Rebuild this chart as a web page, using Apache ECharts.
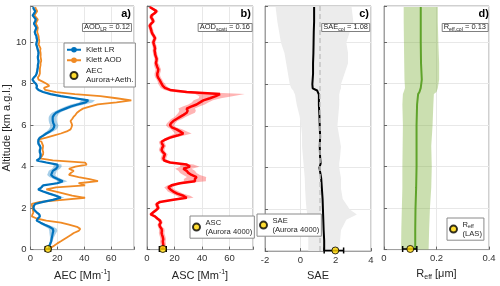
<!DOCTYPE html>
<html><head><meta charset="utf-8">
<script src="https://cdn.jsdelivr.net/npm/echarts@6/dist/echarts.min.js"></script>
<style>html,body{margin:0;padding:0;background:#fff}#c{width:500px;height:286px}</style>
</head><body><div id="c"></div>
<script>
// ---------- data ----------
const altitude = [0,0.1,0.2,0.3,0.4,0.5,0.6,0.7,0.8,0.9,1,1.1,1.2,1.3,1.4,1.5,1.6,1.7,1.8,1.9,2,2.1,2.2,2.3,2.4,2.5,2.6,2.7,2.8,2.9,3,3.1,3.2,3.3,3.4,3.5,3.6,3.7,3.8,3.9,4,4.1,4.2,4.3,4.4,4.5,4.6,4.7,4.8,4.9,5,5.1,5.2,5.3,5.4,5.5,5.6,5.7,5.8,5.9,6,6.1,6.2,6.3,6.4,6.5,6.6,6.7,6.8,6.9,7,7.1,7.2,7.3,7.4,7.5,7.6,7.7,7.8,7.9,8,8.1,8.2,8.3,8.4,8.5,8.6,8.7,8.8,8.9,9,9.1,9.2,9.3,9.4,9.5,9.6,9.7,9.8,9.9,10,10.1,10.2,10.3,10.4,10.5,10.6,10.7,10.8,10.9,11,11.1,11.2,11.3,11.4,11.5,11.6,11.7];
const aecKlettLR = [13.7,14,14.2,14.8,15.4,15.7,16,16.3,16.6,17,16.6,14,10.6,7.5,4.6,5.5,7,6.5,4.6,3,2.2,2.5,3.4,9.4,16.6,22.6,19,14,9.4,5.8,8.2,9.4,20,24,20.2,17,15.4,16,16.6,19,20.2,20,11.8,4.6,7,7.5,7.5,7,7,7.5,7,6,5.8,6,7,9.5,11.8,14.5,16.6,17.5,17.8,17,16.6,16.5,16.6,17.5,19,22,26,30,35,41,43,33,22.6,15,9.4,6,4.5,4.8,4,2.5,1.5,2.5,4,4.6,5,5.2,5.5,5.5,5.8,6,5.6,5.5,5.8,6,5.6,5.2,4.8,4.3,4.6,5,4.6,4.4,3.6,3.2,3.8,4.4,3.5,2.6,3.4,4,2.8,1.6,2.8,3.6,2.5,2];
const aecKlettLRErr = [1,1,1,1,1,1.2,1.5,2,2.5,3,3,3,2.5,1.5,1,0.8,0.8,0.8,0.8,0.8,0.8,0.8,0.8,1.5,2,2.5,2.5,2,1.5,1,1,1.5,3,3.5,3,3,3,3,3,3,3,3,2,1,1,1,1,1,1,1,1,1,1,1,1,1.5,2,2.5,3,3,3,3,3,3,3,3,3,3,3.5,4,5,5,5,4,3,2,1.5,1,0.8,0.8,0.8,0.8,0.8,0.8,0.8,0.8,0.8,0.8,0.8,0.8,0.8,0.8,0.8,0.8,0.8,0.8,0.8,0.8,0.8,0.8,0.8,0.8,0.8,0.8,0.8,0.8,0.8,0.8,0.8,0.8,0.8,0.8,0.8,0.8,0.8,0.8,0.8,0.8];
const aecKlettAOD = [13.7,15.5,17.8,20,22.6,25,27.4,30,32.2,35.8,37,34.6,28.6,22.6,11.8,4.6,1,1.5,2.2,1.8,1.7,1.2,1,7,23.8,40.6,31,25,19,11.8,19,40.6,35.8,50.2,44,35.8,28.6,30,32.2,28.6,33.4,41.8,40.6,16.6,7,8.5,9.4,9.5,9,9.2,9.4,8.8,8.2,5.8,11.8,17,22.6,27,29.8,30.5,31,30.5,29.8,31,32,33.5,34.6,36.5,39,44,50,64,75,64,52,33,19,11,10,14,12,9,6,5.5,6.5,7,7,7,7.2,7.5,7.5,8,7.8,7.5,7.6,7.5,7.2,7.5,6.8,6,6.5,6.5,6.2,6,5.5,5,5.2,5.5,4.8,4,4.6,5.5,4.2,3,4,5,4.2,3.5];
const asc = [11,11.5,11.9,11.7,11.5,11.8,11.5,11,10.6,10.8,10.6,9.5,9,10,9.4,7.5,5.8,2.7,4.6,6.5,8.2,7.5,7,9.4,19.1,28.8,26.4,22,19.1,17,15.5,17.9,24,34.8,34.8,36,32.4,30,28.8,26.4,31.2,28.8,16.7,12.5,11.9,12.5,13,11.5,10.6,11,11.9,11,10.6,13,16.7,22,26.4,24,21.5,18,16.7,17.5,19.1,21.5,24,26.5,28.8,29.5,28.8,32,36,38.5,40.9,45.7,50,53,28.8,16.7,13,11.5,10.6,9.8,9,8,7.5,7.5,8,8.2,7.5,7,6.5,6.8,7,6.5,6,5.8,5.5,5.8,5.5,5,4.6,5.2,5.8,5,4,3.4,3,2.5,2,3,4.6,4,3,3.4,5.5,7,4.5,2];
const ascErr = [2,2,2,2,2,2,2,2,2,2,2,1.5,1.5,1.5,1.5,1.5,1.5,1.5,1.5,1.5,1.5,1.5,1.5,2,4,5,5,4,4,3,3,3,4,8,8,7,6,6,6,6,7,5,3,2,2,2,2,2,2,2,2,2,2,2,3,5,6,5,4,3,3,3,3,4,4,5,6,6,6,6,6,6,7,8,12,18,10,4,3,2.5,2.5,2,2,2,2,2,2,2,2,2,1.5,1.5,1.5,1.5,1.5,1.5,1.5,1.5,1.5,1.5,1.5,1.5,1.5,1.5,1.5,1.5,1.5,1.5,1.5,1.5,1.5,1.5,1.5,1.5,1.5,1.5,1.5,1.5];

const altSAE = [0,0.5,1,1.5,1.75,2,2.5,3,3.5,4,4.2,4.5,5,5.5,6,6.5,7,7.5,7.7,7.8,8,8.5,9,9.5,10,10.5,11,11.7];
const sae    = [1.35,1.35,1.32,1.3,1.29,1.28,1.26,1.22,1.18,1.08,1.15,1.12,1.1,1.12,1.1,1.08,1.05,1.05,0.95,0.7,0.68,0.72,0.72,0.74,0.75,0.76,0.78,0.78];
const saeLo  = [0.45,0.45,0.45,0.4,0.4,0.35,0.3,0.27,0.25,0.2,0.18,0.15,0.1,0.1,0.05,-0.05,-0.2,-0.3,-0.4,-0.5,-0.6,-0.7,-0.8,-0.9,-1.1,-1.2,-1.3,-1.4];
const saeHi  = [2.2,2.25,2.3,2.6,3.2,2.8,2.4,2.3,2.3,2.2,2.2,2.25,2.3,2.2,2.1,2.15,2.2,2.2,2.25,2.3,2.3,2.5,2.7,2.7,2.6,2.8,3.0,2.9];
const saeColumn = 1.08;

const altReff = [0,1,2,3,4,5,6,7,7.5,7.6,7.8,8.2,9,10,11,11.7];
const reff    = [0.119,0.119,0.12,0.1225,0.124,0.124,0.124,0.126,0.13,0.135,0.14,0.144,0.141,0.14,0.14,0.14];
const reffLo  = [0.065,0.066,0.068,0.07,0.07,0.071,0.072,0.07,0.072,0.075,0.08,0.078,0.077,0.076,0.075,0.075];
const reffHi  = [0.17,0.172,0.175,0.18,0.182,0.18,0.185,0.188,0.19,0.2,0.205,0.21,0.21,0.207,0.205,0.205];

// in-situ points: [value, low, high, altitude]
const aecInSitu  = [13, 11, 15, 0.03];
const ascInSitu  = [11.5, 9, 14, 0.03];
const saeInSitu  = [1.98, 1.35, 2.45, 0.03];
const reffInSitu = [0.10, 0.071, 0.125, 0.03];

const yTicks = [0,2,4,6,8,10];
const xTicksAEC = [0,20,40,60];
const xTicksASC = [0,20,40,60];
const xTicksSAE = [-2,0,2,4];
const xTicksReff = [0,0.2,0.4];

// ---------- chart ----------
const FONT = 'Liberation Sans, Arial, sans-serif';
const chart = echarts.init(document.getElementById('c'), null, {renderer:'canvas'});
const grids = [
  {left:27, top:6, width:107, height:250},
  {left:147, top:6, width:106, height:250},
  {left:265, top:6, width:106, height:250},
  {left:384, top:6, width:105, height:250}
].map(g => Object.assign(g, {show:true, borderColor:'#a0a0a0', borderWidth:1, backgroundColor:'#fff'}));

function tickFmt(ticks){ return v => { const t = ticks.find(t => Math.abs(t - v) < 1e-9); return t === undefined ? '' : String(t); }; }
function xAx(gi, min, max, interval, ticks, name){
  return {type:'value', gridIndex:gi, min, max, interval, name, nameLocation:'middle', nameGap:15,
    nameTextStyle:{fontFamily:FONT, fontSize:11, color:'#262626',
      rich:{n:{fontFamily:FONT,fontSize:11,color:'#262626',lineHeight:14},
            p:{fontFamily:FONT,fontSize:7,color:'#262626',lineHeight:8,verticalAlign:'top'},
            s:{fontFamily:FONT,fontSize:7,color:'#262626',lineHeight:8,verticalAlign:'bottom'}}},
    axisLine:{show:true, onZero:false, lineStyle:{color:'#a0a0a0'}},
    axisTick:{show:true, inside:true, length:3, lineStyle:{color:'#666'}},
    axisLabel:{fontFamily:FONT, fontSize:9.5, color:'#333', margin:4, formatter:tickFmt(ticks), showMinLabel:true, showMaxLabel:true, hideOverlap:false},
    splitLine:{show:true, lineStyle:{color:'#e8e8e8', width:1}}};
}
function yAx(gi){
  return {type:'value', gridIndex:gi, min:0, max:11.75, interval:2,
    name: gi===0 ? 'Altitude [km a.g.l.]' : '', nameLocation:'middle', nameGap:13, nameRotate:90,
    nameTextStyle:{fontFamily:FONT, fontSize:11, color:'#262626'},
    axisLine:{show:true, onZero:false, lineStyle:{color:'#a0a0a0'}},
    axisTick:{show:true, inside:true, length:3, lineStyle:{color:'#666'}},
    axisLabel:{show: gi===0, fontFamily:FONT, fontSize:9.5, color:'#333', margin:4, formatter:tickFmt(yTicks)},
    splitLine:{show:true, lineStyle:{color:'#e8e8e8', width:1}}};
}
function band(gi, lo, hi, alt, color){
  return {type:'custom', xAxisIndex:gi, yAxisIndex:gi, silent:true, z:1,
    data: alt.map((a,i)=>[lo[i], hi[i], a]), encode:{x:[0,1], y:2},
    renderItem:(params, api)=>{
      if (params.dataIndex !== 0) return null;
      const pts = [];
      for (let i=0;i<alt.length;i++) pts.push(api.coord([lo[i], alt[i]]));
      for (let i=alt.length-1;i>=0;i--) pts.push(api.coord([hi[i], alt[i]]));
      return {type:'polygon', shape:{points:pts}, style:{fill:color}};
    }};
}
function line(gi, name, xs, alt, color, width, z){
  return {type:'line', name, xAxisIndex:gi, yAxisIndex:gi, data: alt.map((a,i)=>[xs[i], a]),
    symbol:'none', lineStyle:{color, width}, itemStyle:{color}, z: z||3, silent:true};
}
function errbar(gi, p){
  return {type:'custom', xAxisIndex:gi, yAxisIndex:gi, silent:true, z:5,
    data:[[p[1], p[2], p[3]]], encode:{x:[0,1], y:2},
    renderItem:(params, api)=>{
      const a = api.coord([api.value(0), api.value(2)]);
      const b = api.coord([api.value(1), api.value(2)]);
      const st = {stroke:'#000', lineWidth:1.5};
      return {type:'group', children:[
        {type:'line', shape:{x1:a[0],y1:a[1],x2:b[0],y2:b[1]}, style:st},
        {type:'line', shape:{x1:a[0],y1:a[1]-3,x2:a[0],y2:a[1]+3}, style:st},
        {type:'line', shape:{x1:b[0],y1:b[1]-3,x2:b[0],y2:b[1]+3}, style:st}
      ]};
    }};
}
function point(gi, name, p){
  return {type:'scatter', name, xAxisIndex:gi, yAxisIndex:gi, data:[[p[0], p[3]]], symbol:'circle', symbolSize:7,
    itemStyle:{color:'#FFD400', borderColor:'#000', borderWidth:1}, z:6, silent:true};
}

const lrLo = aecKlettLR.map((v,i)=>v-aecKlettLRErr[i]);
const lrHi = aecKlettLR.map((v,i)=>v+aecKlettLRErr[i]);
const ascLo = asc.map((v,i)=>Math.max(0, v-ascErr[i]));
const ascHi = asc.map((v,i)=>v+ascErr[i]);

function legTxt(fs){ return {fontFamily:FONT, fontSize:fs, fontWeight:'normal', color:'#262626', lineHeight:fs+1.5,
  rich:{n:{fontFamily:FONT,fontSize:fs,fontWeight:'normal',color:'#262626',lineHeight:fs+1.5},
        s:{fontFamily:FONT,fontSize:fs*0.7,fontWeight:'normal',color:'#262626',lineHeight:fs*0.8,verticalAlign:'bottom'}}}; }
const legBase = {orient:'vertical', itemGap:1, itemWidth:8, itemHeight:7, padding:[2,2,2,2],
  borderColor:'#8a8a8a', borderWidth:1, backgroundColor:'#fff', borderRadius:0, selectedMode:false, z:20};

const annTxt = {fontFamily:FONT, fontSize:7.5, fontWeight:'normal', color:'#262626',
  rich:{n:{fontFamily:FONT,fontSize:7.5,fontWeight:'normal',color:'#262626',lineHeight:10},
        s:{fontFamily:FONT,fontSize:5.2,fontWeight:'normal',color:'#262626',lineHeight:6,verticalAlign:'bottom'}}};
function ann(text, right){ return {text, right, top:22, padding:[0,2,0,2], borderColor:'#808080', borderWidth:1, backgroundColor:'#fff', textStyle:annTxt}; }
function lab(text, right){ return {text, right, top:8, padding:0, textStyle:{fontFamily:FONT, fontSize:11, fontWeight:'bold', color:'#000'}}; }

chart.setOption({
  animation:false,
  grid: grids,
  xAxis:[
    xAx(0, 0, 77, 20, xTicksAEC, '{n|AEC [Mm}{p|-1}{n|]}'),
    xAx(1, 0, 77, 20, xTicksASC, '{n|ASC [Mm}{p|-1}{n|]}'),
    xAx(2, -2, 4, 2, xTicksSAE, '{n|SAE}'),
    xAx(3, 0, 0.4, 0.2, xTicksReff, '{n|R}{s|eff}{n| [μm]}')
  ],
  yAxis:[yAx(0), yAx(1), yAx(2), yAx(3)],
  title:[
    lab('a)', 369), lab('b)', 249), lab('c)', 131), lab('d)', 11),
    ann('{n|AOD}{s|LR}{n| = 0.12}', 368),
    ann('{n|AOD}{s|scatt}{n| = 0.16}', 248),
    ann('{n|SAE}{s|col}{n| = 1.08}', 130),
    ann('{n|R}{s|eff,col}{n| = 0.13}', 12)
  ],
  legend:[
    Object.assign({}, legBase, {left:64, top:43, itemWidth:14, textStyle:legTxt(8),
      data:[{name:'Klett LR'},{name:'Klett AOD'},{name:'AEC\nAurora+Aeth.', icon:'circle'}]}),
    Object.assign({}, legBase, {left:190, top:216, textStyle:legTxt(7.6), data:[{name:'ASC\n(Aurora 4000)', icon:'circle'}]}),
    Object.assign({}, legBase, {left:257, top:214, textStyle:legTxt(7.6), data:[{name:'SAE\n(Aurora 4000)', icon:'circle'}]}),
    Object.assign({}, legBase, {left:447, top:218, textStyle:legTxt(7.6), data:[{name:'Reff\n(LAS)', icon:'circle'}],
      formatter: n => '{n|R}{s|eff}\n{n|(LAS)}'})
  ],
  series:[
    line(0, 'Klett AOD', aecKlettAOD, altitude, '#F08A24', 1.8, 2),
    band(0, lrLo, lrHi, altitude, 'rgba(0,114,189,0.35)'),
    line(0, 'Klett LR', aecKlettLR, altitude, '#0072BD', 2.2, 3),
    errbar(0, aecInSitu), point(0, 'AEC\nAurora+Aeth.', aecInSitu),

    band(1, ascLo, ascHi, altitude, 'rgba(255,40,40,0.35)'),
    line(1, 'ASC', asc, altitude, '#FF0000', 2.5, 3),
    errbar(1, ascInSitu), point(1, 'ASC\n(Aurora 4000)', ascInSitu),

    band(2, saeLo, saeHi, altSAE, '#ececec'),
    Object.assign(line(2, 'SAE', sae, altSAE, '#000', 2, 3), {
      markLine:{silent:true, symbol:'none', label:{show:false}, lineStyle:{color:'#c4c4c4', type:[5,3], width:1.5}, data:[{xAxis:saeColumn}]}}),
    errbar(2, saeInSitu), point(2, 'SAE\n(Aurora 4000)', saeInSitu),

    band(3, reffLo, reffHi, altReff, 'rgba(119,172,48,0.38)'),
    line(3, 'Reff', reff, altReff, '#5FA32A', 2, 3),
    errbar(3, reffInSitu), point(3, 'Reff\n(LAS)', reffInSitu)
  ]
});
</script></body></html>
